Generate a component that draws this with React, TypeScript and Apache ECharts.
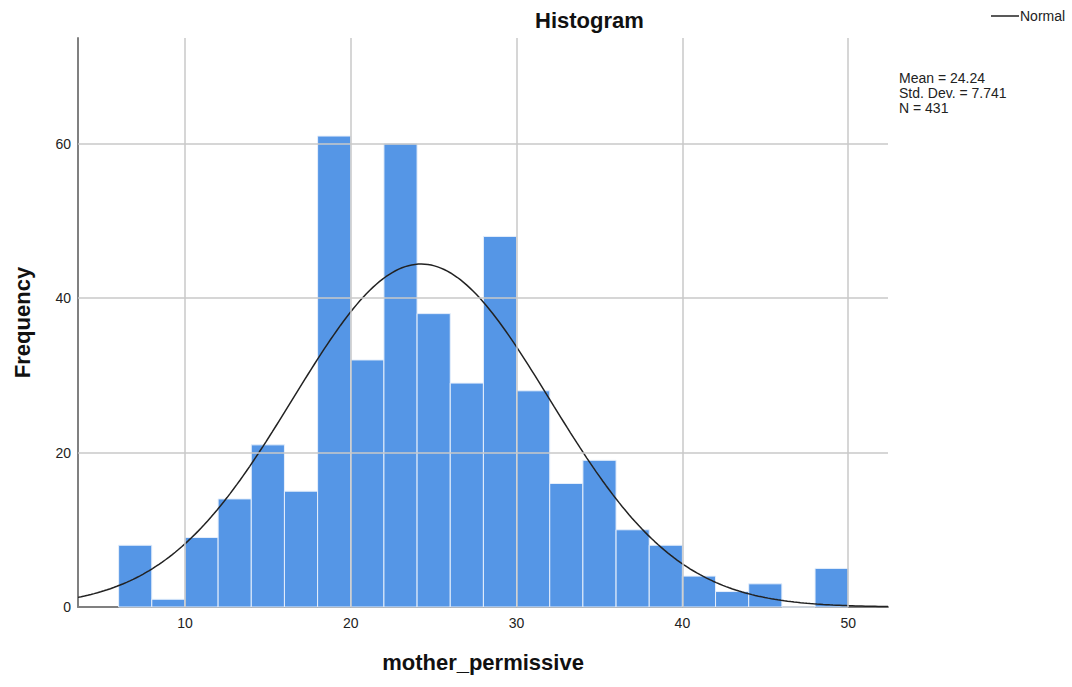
import React, { useEffect, useRef } from "react";
import * as echarts from "echarts";

// Histogram bins (bin width 2) and their frequencies
const binStarts = [6, 8, 10, 12, 14, 16, 18, 20, 22, 24, 26, 28, 30, 32, 34, 36, 38, 40, 42, 44, 46, 48];
const counts = [8, 1, 9, 14, 21, 15, 61, 32, 60, 38, 29, 48, 28, 16, 19, 10, 8, 4, 2, 3, 0, 5];
const binWidth = 2;

// Summary statistics shown on the chart (they define the "Normal" curve)
const meanText = "24.24";
const sdText = "7.741";
const nText = "431";
const mean = 24.24;
const sd = 7.741;
const n = 431;

// Axis ranges and tick labels
const xMin = 3.55;
const xMax = 52.4;
const yMin = 0;
const yMax = 73.7;
const xTicks = [10, 20, 30, 40, 50];
const yTicks = [0, 20, 40, 60];
const yGrid = [20, 40, 60];

const FONT = '"Liberation Sans", Arial, sans-serif';

export default function App() {
  const ref = useRef<HTMLDivElement>(null);

  useEffect(() => {
    if (!ref.current) return;
    const chart = echarts.init(ref.current, undefined, { renderer: "svg" });

    const histData = binStarts.map((s, i) => [s, s + binWidth, counts[i]]);

    // Normal density scaled to counts: N * binWidth * pdf(x; mean, sd)
    const curve: number[][] = [];
    const steps = 250;
    for (let i = 0; i <= steps; i++) {
      const x = xMin + ((xMax - xMin) * i) / steps;
      const z = (x - mean) / sd;
      const y = (n * binWidth * Math.exp(-0.5 * z * z)) / (sd * Math.sqrt(2 * Math.PI));
      curve.push([x, y]);
    }

    const option: any = {
      animation: false,
      textStyle: { fontFamily: FONT },
      title: {
        text: "Histogram",
        left: 530,
        top: 4,
        textStyle: { fontSize: 22, fontWeight: "bold", color: "#111", fontFamily: FONT },
      },
      legend: {
        data: [{ name: "Normal", icon: "rect" }],
        left: 986,
        top: 4,
        itemWidth: 28,
        itemHeight: 1.5,
        textStyle: { fontSize: 14, color: "#222", fontFamily: FONT, padding: [0, 0, 0, -4] },
      },
      grid: { left: 78, right: 184, top: 38, bottom: 80, containLabel: false },
      xAxis: {
        type: "value",
        min: xMin,
        max: xMax,
        name: "mother_permissive",
        nameLocation: "middle",
        nameGap: 44,
        nameTextStyle: { fontSize: 22, fontWeight: "bold", color: "#111", fontFamily: FONT },
        axisLine: { show: true, lineStyle: { color: "#808080", width: 2 } },
        axisTick: { show: false },
        splitLine: { show: false },
        axisLabel: { customValues: xTicks, fontSize: 14, color: "#222", margin: 9 },
      },
      yAxis: {
        type: "value",
        min: yMin,
        max: yMax,
        name: "Frequency",
        nameLocation: "middle",
        nameGap: 45,
        nameTextStyle: { fontSize: 22, fontWeight: "bold", color: "#111", fontFamily: FONT },
        axisLine: { show: true, lineStyle: { color: "#808080", width: 2 } },
        axisTick: { show: false },
        splitLine: { show: false },
        axisLabel: { customValues: yTicks, fontSize: 14, color: "#222", margin: 7 },
      },
      graphic: [
        {
          type: "text",
          left: 899,
          top: 70,
          style: {
            text: `Mean = ${meanText}\nStd. Dev. = ${sdText}\nN = ${nText}`,
            font: `14px ${FONT}`,
            lineHeight: 15,
            fill: "#222",
          },
        },
      ],
      series: [
        {
          type: "line",
          name: "grid",
          data: [],
          z: 1,
          silent: true,
          markLine: {
            silent: true,
            symbol: "none",
            label: { show: false },
            lineStyle: { color: "#c8c8c8", width: 1.5, type: "solid" },
            data: [...xTicks.map((v) => ({ xAxis: v })), ...yGrid.map((v) => ({ yAxis: v }))],
          },
        },
        {
          type: "custom",
          name: "Frequency",
          z: 2,
          data: histData,
          encode: { x: [0, 1], y: 2 },
          renderItem: (params: any, api: any) => {
            const x0 = api.value(0);
            const x1 = api.value(1);
            const y = api.value(2);
            const p0 = api.coord([x0, y]);
            const p1 = api.coord([x1, 0]);
            return {
              type: "rect",
              shape: { x: p0[0], y: p0[1], width: p1[0] - p0[0], height: p1[1] - p0[1] },
              style: { fill: "#5596e6", stroke: "#e6effb", lineWidth: 1 },
            };
          },
        },
        {
          type: "line",
          name: "Normal",
          z: 3,
          data: curve,
          symbol: "none",
          showSymbol: false,
          smooth: false,
          color: "#222",
          lineStyle: { color: "#222", width: 1.5 },
          silent: true,
        },
      ],
    };

    chart.setOption(option);
    return () => chart.dispose();
  }, []);

  return (
    <div
      ref={ref}
      style={{ position: "fixed", left: 0, top: 0, width: 1072, height: 687, background: "#fff" }}
    />
  );
}
